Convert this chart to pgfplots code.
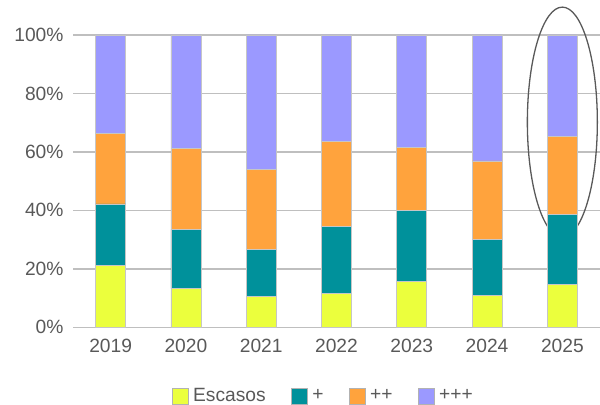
\documentclass[border=0pt]{standalone}
\usepackage{pgfplots}
\pgfplotsset{compat=1.18}
\usepackage{fontspec}
\setmainfont{Liberation Sans}
\definecolor{cyel}{HTML}{EBFF3D}
\definecolor{cteal}{HTML}{00919B}
\definecolor{corange}{HTML}{FFA33D}
\definecolor{cpurple}{HTML}{9B99FF}
\definecolor{ctext}{HTML}{595959}
\definecolor{cgrid}{HTML}{BFBFBF}
\begin{document}
\begin{tikzpicture}
\begin{axis}[
  scale only axis,
  width=527bp, height=292.3bp,
  ybar stacked, bar width=30bp,
  xmin=-0.5, xmax=6.5, ymin=0, ymax=100,
  xtick={0,1,2,3,4,5,6},
  xticklabels={2019,2020,2021,2022,2023,2024,2025},
  ytick={0,20,40,60,80,100},
  yticklabel={\pgfmathprintnumber{\tick}\%},
  /pgf/number format/assume math mode=true,
  ymajorgrids,
  major grid style={draw=cgrid, line width=1.6bp},
  axis line style={draw=none},
  tick style={draw=none},
  tick label style={font=\fontsize{19.2bp}{23bp}\selectfont, text=ctext},
  yticklabel style={xshift=-6bp},
  xticklabel style={yshift=-8bp},
  clip=false,
  legend columns=4,
  legend style={draw=none, at={(0.181,-0.235)}, anchor=west,
    font=\fontsize{19.2bp}{23bp}\selectfont, text=ctext,
    /tikz/every odd column/.append style={column sep=3bp},
    /tikz/every even column/.append style={column sep=23bp}},
  legend image code/.code={\draw[#1, draw=gray!60, line width=0.6bp] (0bp,-8bp) rectangle (16bp,8bp);},
  every axis plot/.append style={draw=gray!45, line width=0.6bp},
]
\addplot[fill=cyel] coordinates {(0,21.3) (1,13.2) (2,10.5) (3,11.6) (4,15.6) (5,10.9) (6,14.8)};
\addplot[fill=cteal] coordinates {(0,20.9) (1,20.3) (2,16.2) (3,23.0) (4,24.3) (5,19.2) (6,23.8)};
\addplot[fill=corange] coordinates {(0,24.1) (1,27.7) (2,27.3) (3,28.9) (4,21.6) (5,26.8) (6,26.8)};
\addplot[fill=cpurple] coordinates {(0,33.7) (1,38.8) (2,46.0) (3,36.5) (4,38.5) (5,43.1) (6,34.6)};
\legend{Escasos,+,++,+++}
\draw[line width=1.3bp, color=black!65] (axis cs:6,70.2) ellipse [x radius=35bp, y radius=115bp];
\end{axis}
\pgfresetboundingbox
\path (current axis.south west) ++(-73bp,-77.7bp) coordinate (bbsw);
\path ([yshift=35bp]current axis.north east) coordinate (bbne);
\useasboundingbox (bbsw) rectangle (bbne);
\end{tikzpicture}
\end{document}
